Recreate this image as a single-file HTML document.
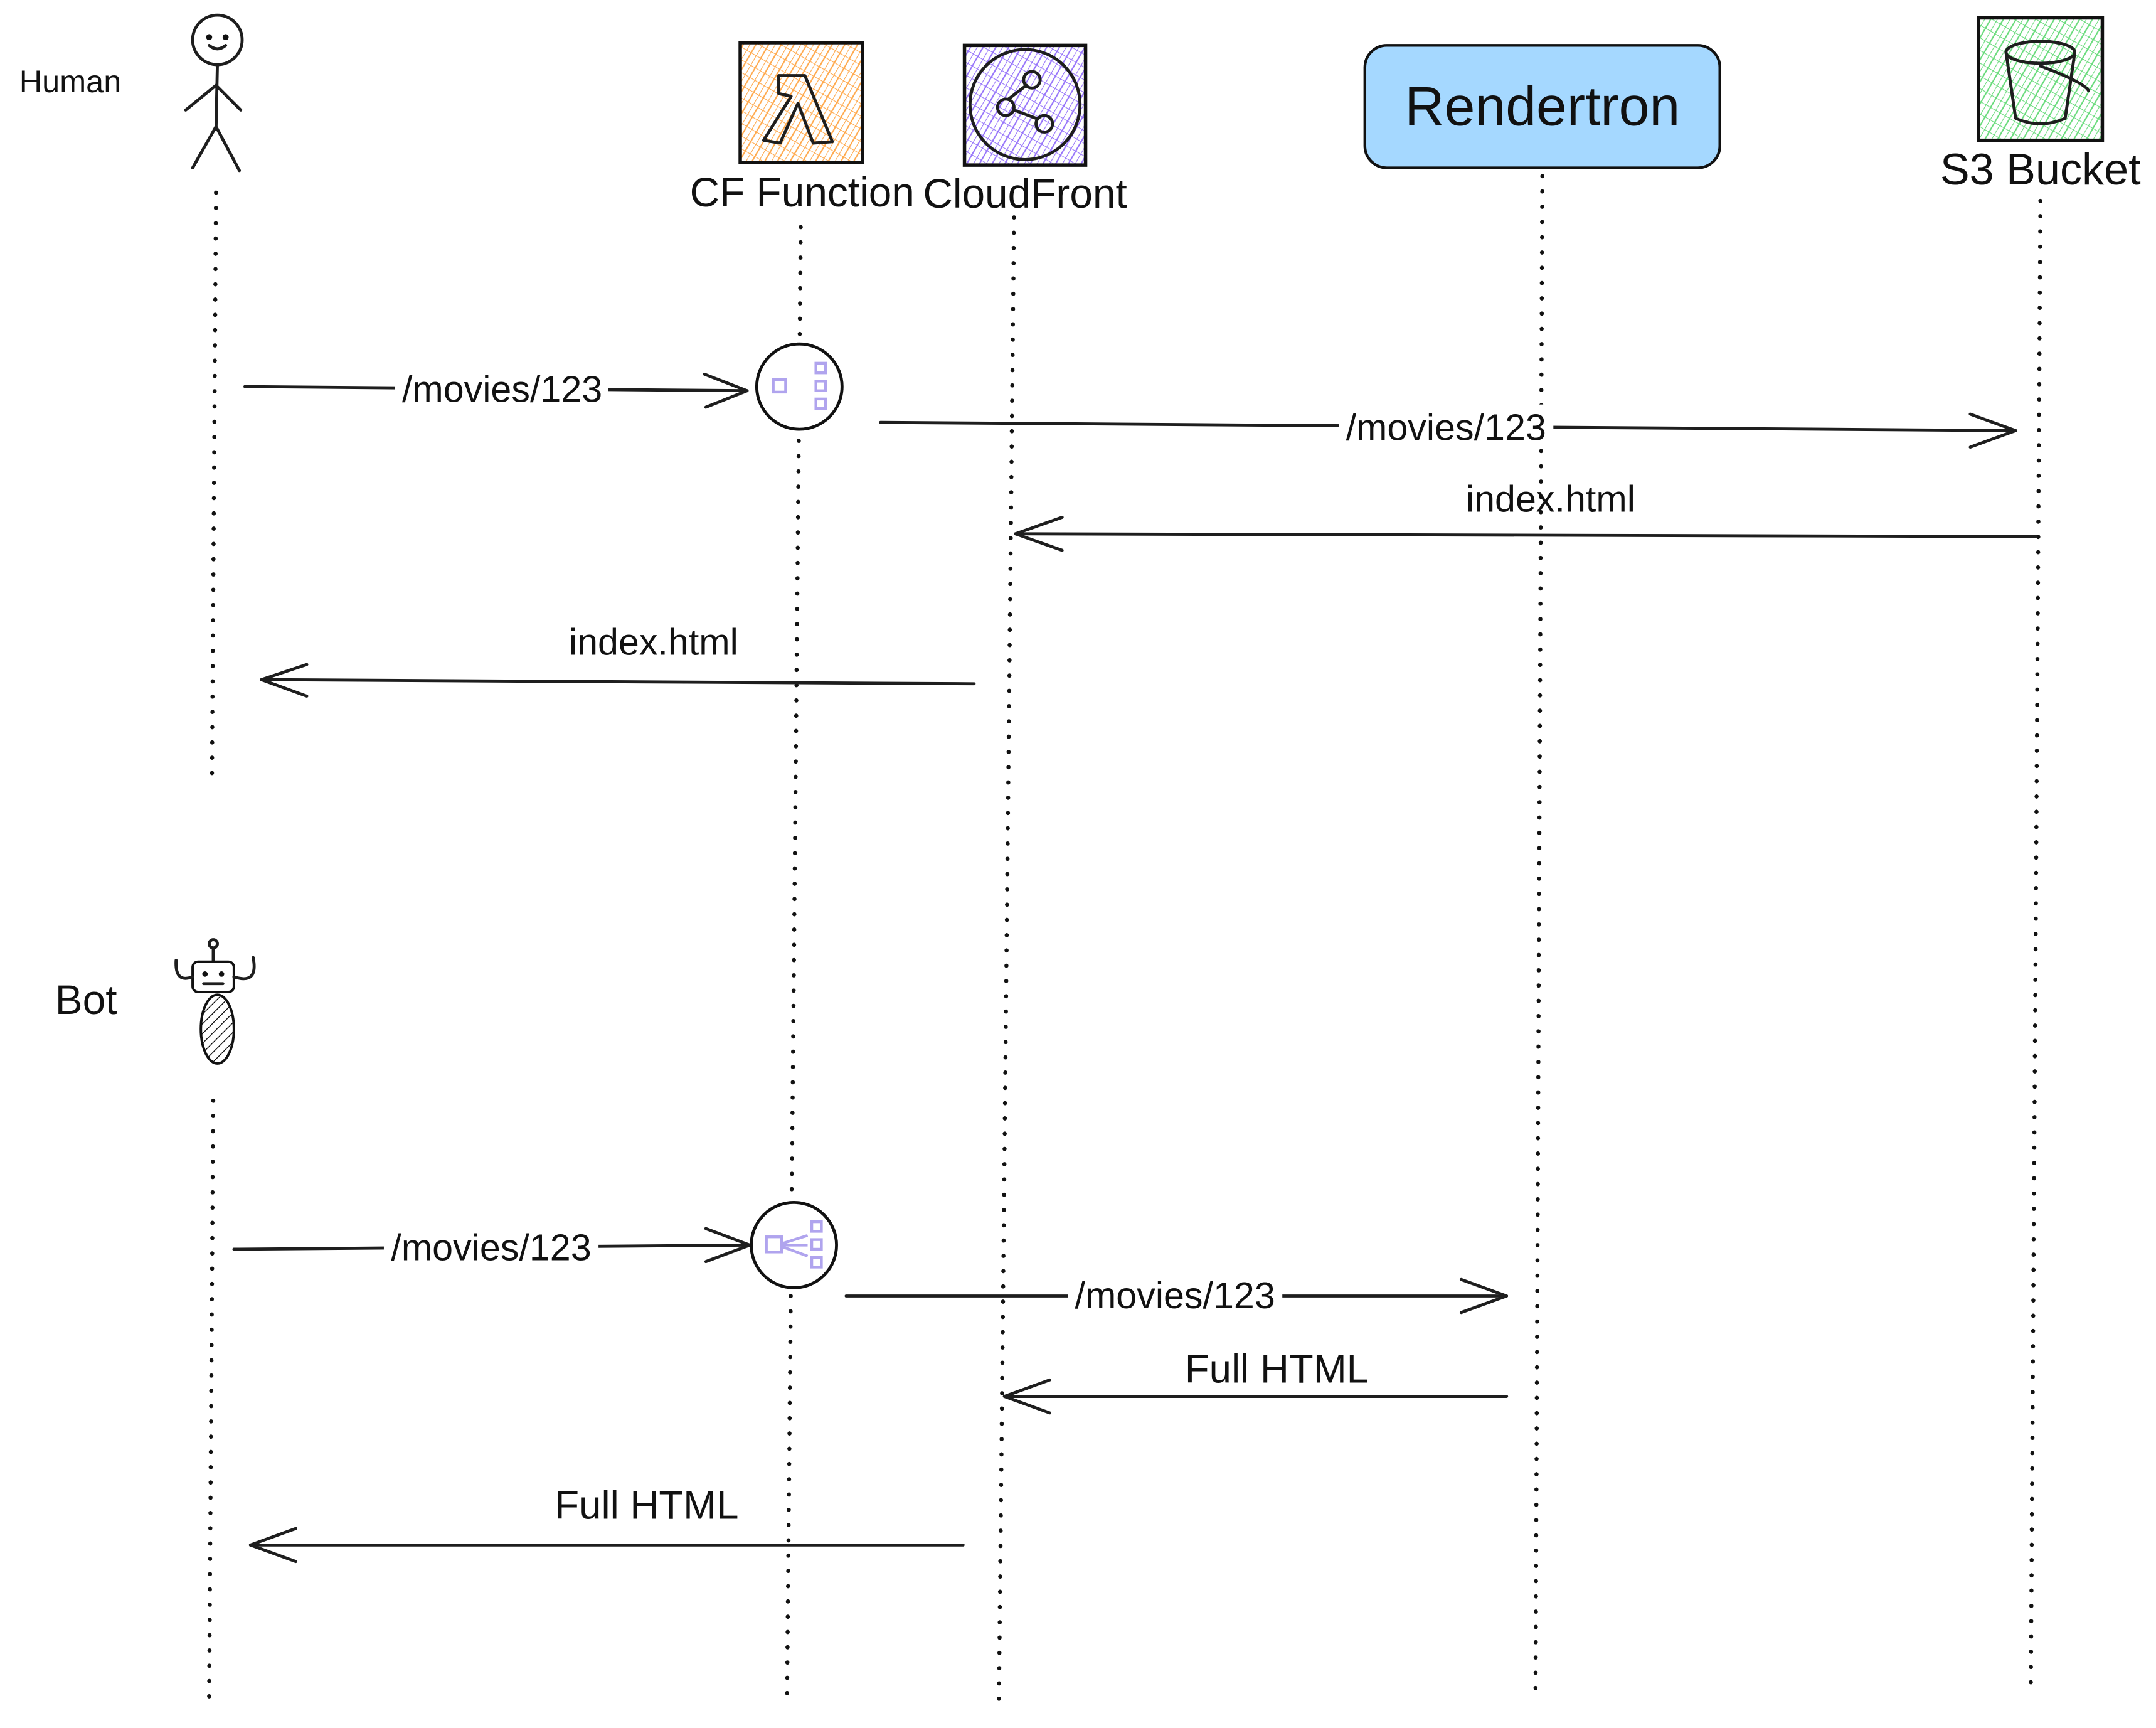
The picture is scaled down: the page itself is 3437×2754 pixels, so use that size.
<!DOCTYPE html>
<html><head><meta charset="utf-8"><style>html,body{margin:0;padding:0;background:#fff}svg{display:block}</style></head><body>
<svg width="3437" height="2754" viewBox="0 0 1567 1256" preserveAspectRatio="none" xmlns="http://www.w3.org/2000/svg">
<defs>
<pattern id="ho" width="8" height="8" patternUnits="userSpaceOnUse" patternTransform="rotate(30)"><path d="M0 0V8M4 0V8" stroke="#ffa94d" stroke-width="1"/><path d="M0 0H8" stroke="#ffa94d" stroke-width="1"/></pattern>
<pattern id="hp" width="8" height="8" patternUnits="userSpaceOnUse" patternTransform="rotate(30)"><path d="M0 0V8M4 0V8" stroke="#9775fa" stroke-width="1"/><path d="M0 0H8" stroke="#9775fa" stroke-width="1"/></pattern>
<pattern id="hg" width="8" height="8" patternUnits="userSpaceOnUse" patternTransform="rotate(30)"><path d="M0 0V8M4 0V8" stroke="#69db7c" stroke-width="1"/><path d="M0 0H8" stroke="#69db7c" stroke-width="1"/></pattern>
<pattern id="hb" width="5" height="5" patternUnits="userSpaceOnUse" patternTransform="rotate(45)"><path d="M0 0V5" stroke="#000" stroke-width="1.2"/></pattern>
</defs>
<style>
text{font-family:"Liberation Sans Narrow","Liberation Sans",sans-serif;fill:#111}
.dot{stroke:#111;stroke-width:3;stroke-dasharray:0.1 11;stroke-linecap:round;fill:none}
.ln{stroke:#1e1e1e;stroke-width:2.2;fill:none;stroke-linecap:round;stroke-linejoin:round}
.lb{font-size:27px;text-anchor:middle}
</style>

<text x="14" y="67" style="font-size:23px">Human</text>
<circle cx="158" cy="29" r="18" class="ln"/>
<circle cx="152" cy="27" r="2.2" fill="#111"/><circle cx="164" cy="27" r="2.2" fill="#111"/>
<path d="M152 33 Q158 38 164 33" class="ln" stroke-width="1.5"/>
<path d="M158 47 L157 94 M157 62 L135 80 M157 62 L175 80 M157 92 L140 122 M157 92 L174 124" class="ln"/>
<line x1="157" y1="140" x2="154" y2="572" class="dot"/>

<rect x="538" y="31" width="89" height="87" fill="url(#ho)" stroke="#111" stroke-width="2.5"/>
<path d="M566 55 L585 55 L605 103 L591 104 L580 75 L567 104 L555 102 L575 70 L566 68 Z" class="ln" stroke-width="3"/>
<text x="583" y="150" class="lb" style="font-size:30px">CF Function</text>
<line x1="582" y1="165" x2="572" y2="1235" class="dot"/>

<rect x="701" y="33" width="88" height="87" fill="url(#hp)" stroke="#111" stroke-width="2.5"/>
<circle cx="745" cy="76" r="40" class="ln" stroke-width="3"/>
<circle cx="750" cy="58" r="6" class="ln"/><circle cx="731" cy="78" r="6" class="ln"/><circle cx="759" cy="90" r="6" class="ln"/>
<path d="M737 80 L753 86 M733 72 L746 62" class="ln"/>
<text x="745" y="151" class="lb" style="font-size:30px">CloudFront</text>
<line x1="737" y1="158" x2="726" y2="1240" class="dot"/>

<rect x="992" y="33" width="258" height="89" rx="16" fill="#a5d8ff" stroke="#111" stroke-width="2"/>
<text x="1121" y="91" class="lb" style="font-size:40px">Rendertron</text>
<line x1="1121" y1="128" x2="1116" y2="1235" class="dot"/>

<rect x="1438" y="13" width="90" height="89" fill="url(#hg)" stroke="#111" stroke-width="2.5"/>
<ellipse cx="1483" cy="38" rx="25" ry="8" class="ln"/>
<path d="M1458 38 L1465 86 Q1483 94 1501 86 L1508 38" class="ln"/>
<path d="M1483 48 Q1515 60 1518 66" class="ln"/>
<text x="1483" y="134" class="lb" style="font-size:32px">S3 Bucket</text>
<line x1="1483" y1="146" x2="1476" y2="1228" class="dot"/>

<line x1="178" y1="281" x2="543" y2="284" class="ln"/>
<path d="M512 272 L543 284 L513 296" class="ln"/>
<rect x="287" y="266" width="155" height="30" fill="#fff"/>
<text x="365" y="292" class="lb">/movies/123</text>
<circle cx="581" cy="281" r="31" fill="#fff" stroke="#111" stroke-width="2.2"/>
<rect x="562" y="276" width="9" height="9" fill="none" stroke="#b0a4ee" stroke-width="2"/>
<rect x="593" y="264" width="7" height="7" fill="none" stroke="#b0a4ee" stroke-width="2"/>
<rect x="593" y="277" width="7" height="7" fill="none" stroke="#b0a4ee" stroke-width="2"/>
<rect x="593" y="290" width="7" height="7" fill="none" stroke="#b0a4ee" stroke-width="2"/>

<line x1="640" y1="307" x2="1465" y2="313" class="ln"/>
<path d="M1432 301 L1465 313 L1432 325" class="ln"/>
<rect x="973" y="294" width="156" height="30" fill="#fff"/>
<text x="1051" y="320" class="lb">/movies/123</text>

<line x1="1480" y1="390" x2="738" y2="388" class="ln"/>
<path d="M772 376 L738 388 L772 400" class="ln"/>
<text x="1127" y="372" class="lb">index.html</text>

<line x1="708" y1="497" x2="190" y2="494" class="ln"/>
<path d="M223 483 L190 494 L223 506" class="ln"/>
<text x="475" y="476" class="lb">index.html</text>

<text x="40" y="737" style="font-size:30px">Bot</text>
<line x1="155" y1="690" x2="155" y2="699" class="ln" stroke-width="1.5"/>
<circle cx="155" cy="686" r="3" class="ln" stroke-width="1.5"/>
<rect x="140" y="699" width="30" height="22" rx="4" fill="#fff" stroke="#111" stroke-width="1.8"/>
<circle cx="149" cy="708" r="2" fill="#111"/><circle cx="161" cy="708" r="2" fill="#111"/>
<path d="M148 715 L162 715" class="ln" stroke-width="1.5"/>
<path d="M140 710 Q127 715 128 698 M170 710 Q188 716 184 696" class="ln" stroke-width="1.5"/>
<ellipse cx="158" cy="748" rx="12" ry="25" fill="url(#hb)" stroke="#111" stroke-width="1.8"/>
<line x1="155" y1="800" x2="152" y2="1235" class="dot"/>

<line x1="170" y1="908" x2="545" y2="905" class="ln"/>
<path d="M513 893 L545 905 L513 917" class="ln"/>
<rect x="279" y="890" width="156" height="30" fill="#fff"/>
<text x="357" y="916" class="lb">/movies/123</text>
<circle cx="577" cy="905" r="31" fill="#fff" stroke="#111" stroke-width="2.2"/>
<rect x="557" y="899" width="11" height="11" fill="none" stroke="#b0a4ee" stroke-width="2"/>
<rect x="590" y="888" width="7" height="7" fill="none" stroke="#b0a4ee" stroke-width="2"/>
<rect x="590" y="901" width="7" height="7" fill="none" stroke="#b0a4ee" stroke-width="2"/>
<rect x="590" y="914" width="7" height="7" fill="none" stroke="#b0a4ee" stroke-width="2"/>
<path d="M568 904 L587 898 M568 905 L587 905 M568 906 L587 913" stroke="#b0a4ee" stroke-width="2"/>

<line x1="615" y1="942" x2="1095" y2="942" class="ln"/>
<path d="M1062 930 L1095 942 L1062 954" class="ln"/>
<rect x="776" y="926" width="156" height="30" fill="#fff"/>
<text x="854" y="951" class="lb">/movies/123</text>

<line x1="1095" y1="1015" x2="730" y2="1015" class="ln"/>
<path d="M763 1003 L730 1015 L763 1027" class="ln"/>
<text x="928" y="1005" class="lb" style="font-size:29px">Full HTML</text>

<line x1="700" y1="1123" x2="182" y2="1123" class="ln"/>
<path d="M215 1111 L182 1123 L215 1135" class="ln"/>
<text x="470" y="1104" class="lb" style="font-size:29px">Full HTML</text>
</svg>
</body></html>
